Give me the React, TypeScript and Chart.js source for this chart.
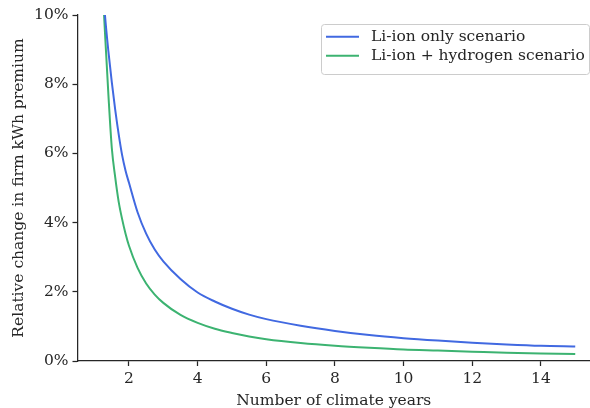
import { useEffect, useRef } from 'react';
import { Chart, registerables } from 'chart.js';

Chart.register(...registerables);

// Number of climate years on the x axis
const climateYears = [1.2, 1.3, 1.4, 1.5, 1.6, 1.7, 1.8, 1.9, 2, 2.25, 2.5, 2.75, 3, 3.5, 4, 4.5, 5, 5.5, 6, 7, 8, 9, 10, 11, 12, 13, 14, 15];

// Relative change in firm kWh premium (%)
const liIonOnly = [11.4, 10.0, 8.95, 8.05, 7.25, 6.55, 5.95, 5.5, 5.15, 4.3, 3.68, 3.22, 2.88, 2.37, 1.98, 1.72, 1.51, 1.34, 1.21, 1.02, 0.87, 0.75, 0.66, 0.59, 0.53, 0.48, 0.44, 0.42];
const liIonHydrogen = [11.4, 9.5, 7.7, 6.15, 5.3, 4.6, 4.1, 3.68, 3.33, 2.69, 2.24, 1.92, 1.68, 1.33, 1.1, 0.93, 0.81, 0.71, 0.63, 0.52, 0.44, 0.38, 0.33, 0.3, 0.27, 0.24, 0.22, 0.2];

const seriesLabels = ['Li-ion only scenario', 'Li-ion + hydrogen scenario'];
const seriesColors = ['#4169e1', '#3cb371'];

const xTicks = [2, 4, 6, 8, 10, 12, 14];
const yTicks = [0, 2, 4, 6, 8, 10];

const FONT = '"DejaVu Serif", serif';
const FONT_SIZE = 15.5;
const INK = '#262626';

// Legend box in the upper right corner of the plot
const cornerLegend = {
  id: 'cornerLegend',
  afterDraw(chart: any) {
    const { ctx } = chart;
    const x0 = 321.5;
    const y0 = 24.5;
    const w = 268;
    const h = 50;
    const r = 3;
    ctx.save();
    ctx.beginPath();
    ctx.moveTo(x0 + r, y0);
    ctx.lineTo(x0 + w - r, y0);
    ctx.arcTo(x0 + w, y0, x0 + w, y0 + r, r);
    ctx.lineTo(x0 + w, y0 + h - r);
    ctx.arcTo(x0 + w, y0 + h, x0 + w - r, y0 + h, r);
    ctx.lineTo(x0 + r, y0 + h);
    ctx.arcTo(x0, y0 + h, x0, y0 + h - r, r);
    ctx.lineTo(x0, y0 + r);
    ctx.arcTo(x0, y0, x0 + r, y0, r);
    ctx.closePath();
    ctx.fillStyle = 'rgba(255,255,255,0.8)';
    ctx.fill();
    ctx.strokeStyle = '#cccccc';
    ctx.lineWidth = 1;
    ctx.stroke();

    chart.data.datasets.forEach((ds: any, i: number) => {
      const y = 36.7 + i * 19;
      ctx.beginPath();
      ctx.moveTo(326, y);
      ctx.lineTo(359, y);
      ctx.strokeStyle = ds.borderColor;
      ctx.lineWidth = 2;
      ctx.stroke();
      ctx.fillStyle = INK;
      ctx.font = `${FONT_SIZE}px ${FONT}`;
      ctx.textAlign = 'left';
      ctx.textBaseline = 'middle';
      ctx.fillText(ds.label, 371, y + 0.5);
    });
    ctx.restore();
  },
};

export default function App() {
  const canvasRef = useRef<HTMLCanvasElement | null>(null);

  useEffect(() => {
    if (!canvasRef.current) return;
    const series = [liIonOnly, liIonHydrogen];
    const chart = new Chart(canvasRef.current, {
      type: 'line',
      data: {
        datasets: series.map((values, i) => ({
          label: seriesLabels[i],
          data: climateYears.map((x, j) => ({ x, y: values[j] })),
          borderColor: seriesColors[i],
          backgroundColor: seriesColors[i],
          borderWidth: 2,
          pointRadius: 0,
          pointHoverRadius: 0,
          cubicInterpolationMode: 'monotone',
          fill: false,
        })),
      },
      options: {
        responsive: false,
        animation: false,
        devicePixelRatio: 1,
        layout: { padding: { top: 15, left: 0, right: 0, bottom: 0 } },
        plugins: {
          legend: { display: false },
          tooltip: { enabled: false },
        },
        scales: {
          x: {
            type: 'linear',
            min: 0.5,
            max: 15.43,
            afterFit: (scale: any) => {
              scale.height = 47;
            },
            afterBuildTicks: (scale: any) => {
              scale.ticks = xTicks.map((value) => ({ value }));
            },
            grid: {
              drawOnChartArea: false,
              drawTicks: true,
              tickLength: 5,
              tickWidth: 1.25,
              tickColor: INK,
            },
            border: { display: true, color: INK, width: 1.25 },
            ticks: {
              color: INK,
              padding: 4,
              maxRotation: 0,
              font: { family: FONT, size: FONT_SIZE },
              callback: (v: any) => String(v),
            },
            title: {
              display: true,
              text: 'Number of climate years',
              color: INK,
              font: { family: FONT, size: FONT_SIZE },
              padding: { top: 0, bottom: -2.3 },
            },
          },
          y: {
            type: 'linear',
            min: 0,
            max: 10,
            afterFit: (scale: any) => {
              scale.width = 77.5;
            },
            afterBuildTicks: (scale: any) => {
              scale.ticks = yTicks.map((value) => ({ value }));
            },
            grid: {
              drawOnChartArea: false,
              drawTicks: true,
              tickLength: 5,
              tickWidth: 1.25,
              tickColor: INK,
            },
            border: { display: true, color: INK, width: 1.25 },
            ticks: {
              color: INK,
              padding: 4,
              font: { family: FONT, size: FONT_SIZE },
              callback: (v: any) => `${v}%`,
            },
            title: {
              display: true,
              text: 'Relative change in firm kWh premium',
              color: INK,
              font: { family: FONT, size: FONT_SIZE },
              padding: { top: 9.4, bottom: 0 },
            },
          },
        },
      } as any,
      plugins: [cornerLegend],
    });
    return () => chart.destroy();
  }, []);

  return (
    <div style={{ position: 'fixed', left: 0, top: 0, width: 590, height: 408, overflow: 'hidden', background: '#fff' }}>
      <canvas ref={canvasRef} width={590} height={408} style={{ display: 'block' }} />
    </div>
  );
}
